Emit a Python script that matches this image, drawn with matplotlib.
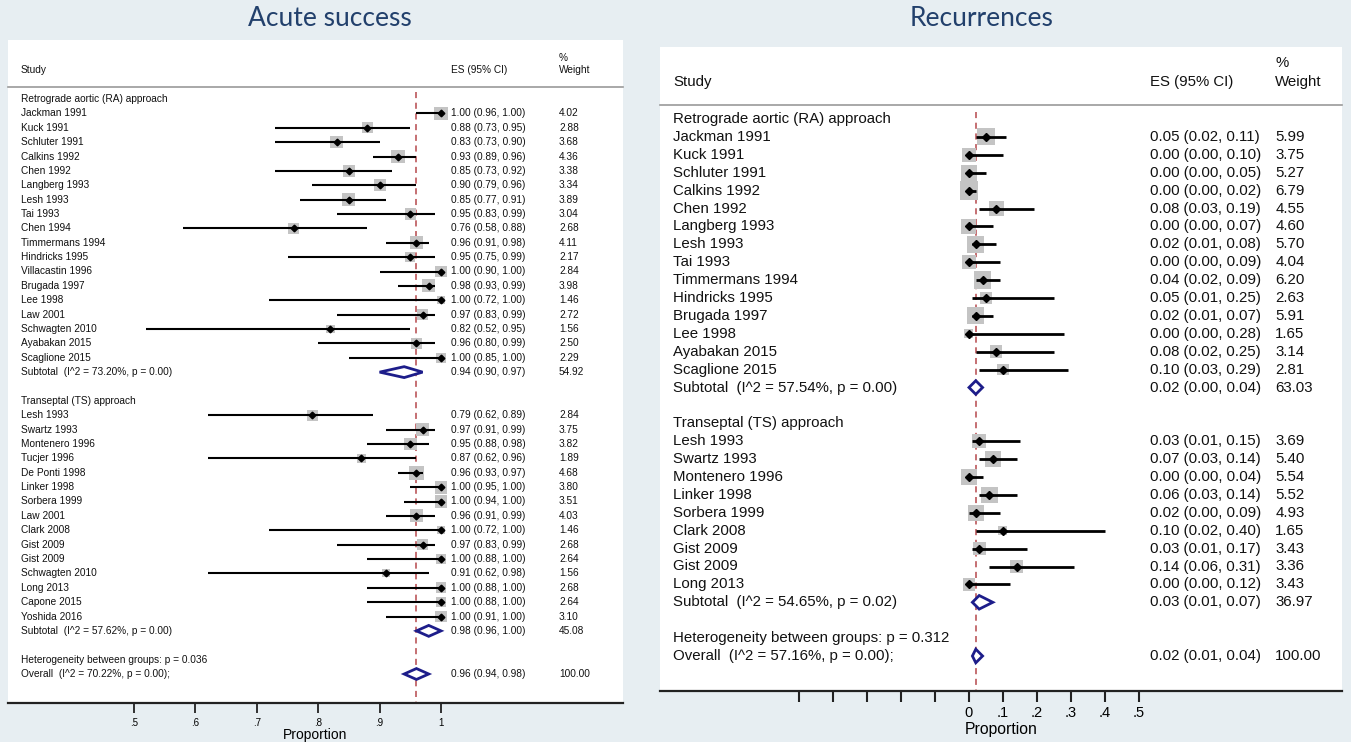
import matplotlib
matplotlib.use("Agg")
import matplotlib.pyplot as plt
from matplotlib.patches import Rectangle, Polygon
from matplotlib.transforms import blended_transform_factory

# ---- Acute success ----
acute_ra_names = ["Jackman 1991", "Kuck 1991", "Schluter 1991", "Calkins 1992", "Chen 1992",
                  "Langberg 1993", "Lesh 1993", "Tai 1993", "Chen 1994", "Timmermans 1994",
                  "Hindricks 1995", "Villacastin 1996", "Brugada 1997", "Lee 1998", "Law 2001",
                  "Schwagten 2010", "Ayabakan 2015", "Scaglione 2015"]
acute_ra_es = [1.00, 0.88, 0.83, 0.93, 0.85, 0.90, 0.85, 0.95, 0.76, 0.96, 0.95, 1.00, 0.98, 1.00, 0.97, 0.82, 0.96, 1.00]
acute_ra_lo = [0.96, 0.73, 0.73, 0.89, 0.73, 0.79, 0.77, 0.83, 0.58, 0.91, 0.75, 0.90, 0.93, 0.72, 0.83, 0.52, 0.80, 0.85]
acute_ra_hi = [1.00, 0.95, 0.90, 0.96, 0.92, 0.96, 0.91, 0.99, 0.88, 0.98, 0.99, 1.00, 0.99, 1.00, 0.99, 0.95, 0.99, 1.00]
acute_ra_w = [4.02, 2.88, 3.68, 4.36, 3.38, 3.34, 3.89, 3.04, 2.68, 4.11, 2.17, 2.84, 3.98, 1.46, 2.72, 1.56, 2.50, 2.29]
acute_ra_sub = ("Subtotal  (I^2 = 73.20%, p = 0.00)", 0.94, 0.90, 0.97, 54.92)

acute_ts_names = ["Lesh 1993", "Swartz 1993", "Montenero 1996", "Tucjer 1996", "De Ponti 1998",
                  "Linker 1998", "Sorbera 1999", "Law 2001", "Clark 2008", "Gist 2009", "Gist 2009",
                  "Schwagten 2010", "Long 2013", "Capone 2015", "Yoshida 2016"]
acute_ts_es = [0.79, 0.97, 0.95, 0.87, 0.96, 1.00, 1.00, 0.96, 1.00, 0.97, 1.00, 0.91, 1.00, 1.00, 1.00]
acute_ts_lo = [0.62, 0.91, 0.88, 0.62, 0.93, 0.95, 0.94, 0.91, 0.72, 0.83, 0.88, 0.62, 0.88, 0.88, 0.91]
acute_ts_hi = [0.89, 0.99, 0.98, 0.96, 0.97, 1.00, 1.00, 0.99, 1.00, 0.99, 1.00, 0.98, 1.00, 1.00, 1.00]
acute_ts_w = [2.84, 3.75, 3.82, 1.89, 4.68, 3.80, 3.51, 4.03, 1.46, 2.68, 2.64, 1.56, 2.68, 2.64, 3.10]
acute_ts_sub = ("Subtotal  (I^2 = 57.62%, p = 0.00)", 0.98, 0.96, 1.00, 45.08)

acute_het = "Heterogeneity between groups: p = 0.036"
acute_overall = ("Overall  (I^2 = 70.22%, p = 0.00);", 0.96, 0.94, 0.98, 100.00)
acute_ticks = [0.5, 0.6, 0.7, 0.8, 0.9, 1.0]
acute_ticklabels = [".5", ".6", ".7", ".8", ".9", "1"]

# ---- Recurrences ----
rec_ra_names = ["Jackman 1991", "Kuck 1991", "Schluter 1991", "Calkins 1992", "Chen 1992",
                "Langberg 1993", "Lesh 1993", "Tai 1993", "Timmermans 1994", "Hindricks 1995",
                "Brugada 1997", "Lee 1998", "Ayabakan 2015", "Scaglione 2015"]
rec_ra_es = [0.05, 0.00, 0.00, 0.00, 0.08, 0.00, 0.02, 0.00, 0.04, 0.05, 0.02, 0.00, 0.08, 0.10]
rec_ra_lo = [0.02, 0.00, 0.00, 0.00, 0.03, 0.00, 0.01, 0.00, 0.02, 0.01, 0.01, 0.00, 0.02, 0.03]
rec_ra_hi = [0.11, 0.10, 0.05, 0.02, 0.19, 0.07, 0.08, 0.09, 0.09, 0.25, 0.07, 0.28, 0.25, 0.29]
rec_ra_w = [5.99, 3.75, 5.27, 6.79, 4.55, 4.60, 5.70, 4.04, 6.20, 2.63, 5.91, 1.65, 3.14, 2.81]
rec_ra_sub = ("Subtotal  (I^2 = 57.54%, p = 0.00)", 0.02, 0.00, 0.04, 63.03)

rec_ts_names = ["Lesh 1993", "Swartz 1993", "Montenero 1996", "Linker 1998", "Sorbera 1999",
                "Clark 2008", "Gist 2009", "Gist 2009", "Long 2013"]
rec_ts_es = [0.03, 0.07, 0.00, 0.06, 0.02, 0.10, 0.03, 0.14, 0.00]
rec_ts_lo = [0.01, 0.03, 0.00, 0.03, 0.00, 0.02, 0.01, 0.06, 0.00]
rec_ts_hi = [0.15, 0.14, 0.04, 0.14, 0.09, 0.40, 0.17, 0.31, 0.12]
rec_ts_w = [3.69, 5.40, 5.54, 5.52, 4.93, 1.65, 3.43, 3.36, 3.43]
rec_ts_sub = ("Subtotal  (I^2 = 54.65%, p = 0.02)", 0.03, 0.01, 0.07, 36.97)

rec_het = "Heterogeneity between groups: p = 0.312"
rec_overall = ("Overall  (I^2 = 57.16%, p = 0.00);", 0.02, 0.01, 0.04, 100.00)
rec_ticks = [-0.5, -0.4, -0.3, -0.2, -0.1, 0.0, 0.1, 0.2, 0.3, 0.4, 0.5]
rec_ticklabels = ["", "", "", "", "", "0", ".1", ".2", ".3", ".4", ".5"]

group_labels = ["Retrograde aortic (RA) approach", "Transeptal (TS) approach"]

W, H = 1351, 742
BG = "#e7eef2"
TITLE_C = "#22406c"
RED = "#b5484b"
NAVY = "#1d1d8a"
BOX = "#c4c4c4"
FONT = "Liberation Sans"

fig = plt.figure(figsize=(W / 100, H / 100), dpi=100, facecolor=BG)


def make_ax(px_left, px_top, px_right, px_bottom, xlim, row0, row_h):
    ax = fig.add_axes([px_left / W, 1 - px_bottom / H, (px_right - px_left) / W, (px_bottom - px_top) / H])
    ax.set_facecolor("white")
    ax.set_xlim(*xlim)
    ax.set_ylim((px_bottom - row0) / row_h, (px_top - row0) / row_h)
    for s in ["top", "left", "right"]:
        ax.spines[s].set_visible(False)
    ax.spines["bottom"].set_linewidth(1.6)
    ax.spines["bottom"].set_color("#222222")
    ax.set_yticks([])
    return ax


def forest(ax, groups, het, overall, fs, k, lw, ms, cols, hdr_y, pct_y, line_y, dash_top):
    trans = blended_transform_factory(ax.transAxes, ax.transData)
    px_x = ax.bbox.width / (ax.get_xlim()[1] - ax.get_xlim()[0])
    px_y = ax.bbox.height / abs(ax.get_ylim()[0] - ax.get_ylim()[1])
    c_name, c_es, c_w = cols
    txt = dict(fontsize=fs, family=FONT, va="center", transform=trans, color="#111111")

    # header
    ax.text(c_name, hdr_y, "Study", **txt)
    ax.text(c_es, hdr_y, "ES (95% CI)", **txt)
    ax.text(c_w, hdr_y, "Weight", **txt)
    ax.text(c_w, pct_y, "%", **txt)
    ax.plot([0, 1], [line_y, line_y], transform=trans, color="#9a9a9a", lw=1.2, clip_on=False)

    def diamond(r, es, lo, hi):
        h = 0.38
        ax.add_patch(Polygon([(lo, r), (es, r - h), (hi, r), (es, r + h)], closed=True,
                             facecolor="white", edgecolor=NAVY, lw=2, zorder=4))

    r = 0
    for label, (names, es, lo, hi, w, sub) in zip(group_labels, groups):
        ax.text(c_name, r, label, **txt)
        r += 1
        for n, e, l, h, wt in zip(names, es, lo, hi, w):
            side = k * wt ** 0.5
            bw, bh = side / px_x, side / px_y
            ax.add_patch(Rectangle((e - bw / 2, r - bh / 2), bw, bh, facecolor=BOX, edgecolor="none", zorder=2))
            ax.plot([l, h], [r, r], color="black", lw=lw, zorder=3, solid_capstyle="butt")
            ax.plot([e], [r], marker="D", color="black", ms=ms, zorder=5)
            ax.text(c_name, r, n, **txt)
            ax.text(c_es, r, "{:.2f} ({:.2f}, {:.2f})".format(e, l, h), **txt)
            ax.text(c_w, r, "{:.2f}".format(wt), **txt)
            r += 1
        s_lab, s_es, s_lo, s_hi, s_w = sub
        diamond(r, s_es, s_lo, s_hi)
        ax.text(c_name, r, s_lab, **txt)
        ax.text(c_es, r, "{:.2f} ({:.2f}, {:.2f})".format(s_es, s_lo, s_hi), **txt)
        ax.text(c_w, r, "{:.2f}".format(s_w), **txt)
        r += 2
    ax.text(c_name, r, het, **txt)
    r += 1
    o_lab, o_es, o_lo, o_hi, o_w = overall
    diamond(r, o_es, o_lo, o_hi)
    ax.text(c_name, r, o_lab, **txt)
    ax.text(c_es, r, "{:.2f} ({:.2f}, {:.2f})".format(o_es, o_lo, o_hi), **txt)
    ax.text(c_w, r, "{:.2f}".format(o_w), **txt)

    ax.plot([o_es, o_es], [dash_top, ax.get_ylim()[0]], color=RED, lw=1.1,
            dashes=(4, 3), zorder=1)


# left panel: Acute success
axL = make_ax(8, 40, 623, 703, (0.2948, 1.2964), 99, 14.375)
forest(axL,
       [(acute_ra_names, acute_ra_es, acute_ra_lo, acute_ra_hi, acute_ra_w, acute_ra_sub),
        (acute_ts_names, acute_ts_es, acute_ts_lo, acute_ts_hi, acute_ts_w, acute_ts_sub)],
       acute_het, acute_overall, fs=7.3, k=6.6, lw=1.5, ms=3.4,
       cols=(0.021, 0.72, 0.896), hdr_y=(70 - 99) / 14.375, pct_y=(58 - 99) / 14.375,
       line_y=(87 - 99) / 14.375, dash_top=-0.5)
axL.set_xticks(acute_ticks)
axL.set_xticklabels(acute_ticklabels, fontsize=7, family=FONT)
axL.tick_params(axis="x", direction="out", length=7.5, width=1.3, pad=3, color="#222222")
axL.set_xlabel("Proportion", fontsize=10, family=FONT, labelpad=0)

# right panel: Recurrences
axR = make_ax(660, 47, 1342, 691, (-0.9088, 1.0971), 119, 17.9)
forest(axR,
       [(rec_ra_names, rec_ra_es, rec_ra_lo, rec_ra_hi, rec_ra_w, rec_ra_sub),
        (rec_ts_names, rec_ts_es, rec_ts_lo, rec_ts_hi, rec_ts_w, rec_ts_sub)],
       rec_het, rec_overall, fs=10.8, k=7.0, lw=2.0, ms=3.8,
       cols=(0.019, 0.718, 0.902), hdr_y=(82 - 119) / 17.9, pct_y=(63 - 119) / 17.9,
       line_y=(105 - 119) / 17.9, dash_top=-0.4)
axR.set_xticks(rec_ticks)
axR.set_xticklabels(rec_ticklabels, fontsize=10.5, family=FONT)
axR.tick_params(axis="x", direction="out", length=8, width=1.5, pad=3, color="#222222")
axR.set_xlabel("Proportion", fontsize=11.3, family=FONT, labelpad=1)

fig.text(330 / W, 1 - 19 / H, "Acute success", fontsize=19, family="Lato", color=TITLE_C,
         ha="center", va="center")
fig.text(982 / W, 1 - 18 / H, "Recurrences", fontsize=19, family="Lato", color=TITLE_C,
         ha="center", va="center")

fig.savefig("out.png", dpi=100, facecolor=BG)
